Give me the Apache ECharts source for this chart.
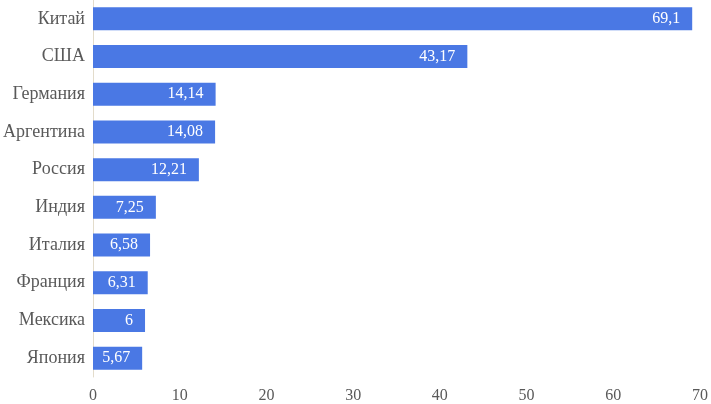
<!DOCTYPE html>
<html>
<head>
<meta charset="utf-8">
<script src="https://cdn.jsdelivr.net/npm/echarts@6/dist/echarts.min.js"></script>
<style>
  html, body { margin: 0; padding: 0; background: #fff; }
  #chart { width: 711px; height: 404px; }
</style>
</head>
<body>
<div id="chart"></div>
<script>
// countries, top to bottom as drawn
var countries = ['Китай', 'США', 'Германия', 'Аргентина', 'Россия', 'Индия', 'Италия', 'Франция', 'Мексика', 'Япония'];
var values = [69.1, 43.17, 14.14, 14.08, 12.21, 7.25, 6.58, 6.31, 6, 5.67];
var xTicks = [0, 10, 20, 30, 40, 50, 60, 70];

var chart = echarts.init(document.getElementById('chart'));
chart.setOption({
    animation: false,
    textStyle: { fontFamily: 'Liberation Serif' },
    grid: { left: 93, right: 6, top: 0, bottom: 26, containLabel: false },
    xAxis: {
        type: 'value',
        min: xTicks[0],
        max: xTicks[xTicks.length - 1],
        interval: 10,
        axisLine: { show: false },
        axisTick: { show: false },
        splitLine: { show: false },
        axisLabel: {
            color: '#595959',
            fontSize: 16,
            margin: 11,
            fontFamily: 'Liberation Serif'
        }
    },
    yAxis: {
        type: 'category',
        inverse: true,
        data: countries,
        axisLine: { show: true, lineStyle: { color: '#e3dccb', width: 1 } },
        axisTick: { show: false },
        axisLabel: {
            color: '#595959',
            fontSize: 18,
            margin: 8,
            fontFamily: 'Liberation Serif'
        }
    },
    series: [{
        type: 'bar',
        data: values,
        barCategoryGap: '39%',
        itemStyle: { color: '#4a78e4' },
        label: {
            show: true,
            position: 'insideRight',
            distance: 12,
            color: '#fff',
            fontSize: 16,
            fontFamily: 'Liberation Serif',
            formatter: function (p) { return String(p.value).replace('.', ','); }
        }
    }]
});
</script>
</body>
</html>
